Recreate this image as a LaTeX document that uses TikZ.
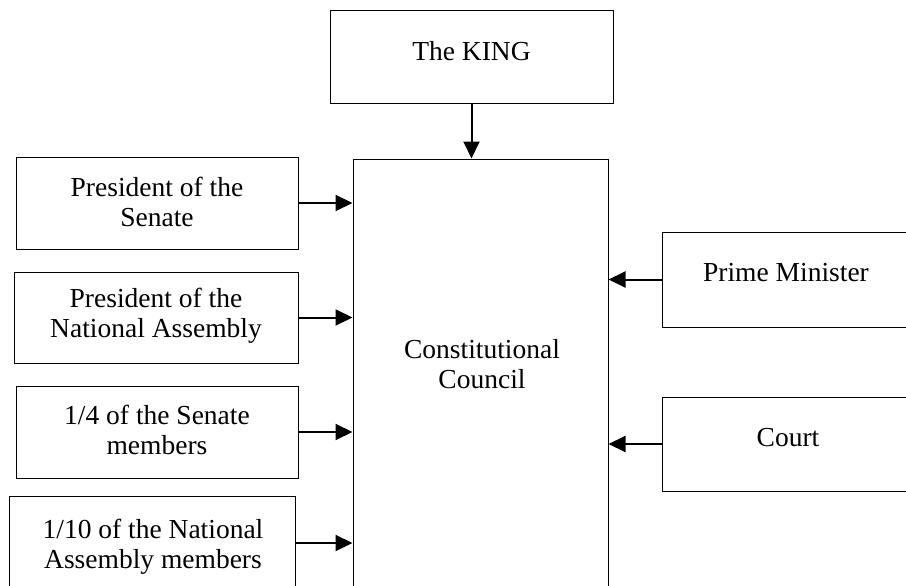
\documentclass[tikz,border=0pt]{standalone}
\usepackage{fontspec}
\setmainfont{Liberation Serif}
\usetikzlibrary{arrows.meta}

\begin{document}
\begin{tikzpicture}[x=1pt, y=-1pt,
    box/.style={draw, line width=1pt, rectangle, inner sep=0pt},
    lbl/.style={align=center, inner sep=0pt, font=\fontsize{27.5}{29.5}\selectfont},
    arr/.style={line width=2pt, -{Triangle[length=17pt,width=16pt]}}]
		%%%%% START %%%%%
		\clip (0, 0) rectangle (906, 586);
		
		% the king and the council
		\node[box, minimum width=283, minimum height=93] (king) at (471.5, 57.5) {};
		\node[lbl] (kingtxt) at (471.5, 51) {The KING};
		\node[box, minimum width=255, minimum height=441] (council) at (480.5, 379.5) {};
		\node[lbl] (counciltxt) at (482, 364) {Constitutional\\Council};
		
		% left side
		\node[box, minimum width=282, minimum height=92] (senpres) at (157, 203) {};
		\node[lbl] (senprestxt) at (157, 202) {President of the\\Senate};
		\node[box, minimum width=284, minimum height=91] (napres) at (156, 317.5) {};
		\node[lbl] (naprestxt) at (156, 316) {President of the\\National Assembly};
		\node[box, minimum width=282, minimum height=92] (senquart) at (157, 432) {};
		\node[lbl] (senquarttxt) at (157, 430) {1/4 of the Senate\\members};
		\node[box, minimum width=286, minimum height=94] (natenth) at (152, 543) {};
		\node[lbl] (natenthtxt) at (153, 547) {1/10 of the National\\Assembly members};
		
		% right side
		\node[box, minimum width=258, minimum height=95] (pm) at (791, 279.5) {};
		\node[lbl] (pmtxt) at (786, 273) {Prime Minister};
		\node[box, minimum width=258, minimum height=94] (court) at (791, 444) {};
		\node[lbl] (courttxt) at (788, 438) {Court};
		
		% arrows
		\draw[arr] (king.south) -- (king.south |- council.north);
		\draw[arr] (senpres.east) -- (senpres.east -| council.west);
		\draw[arr] (napres.east) -- (napres.east -| council.west);
		\draw[arr] (senquart.east) -- (senquart.east -| council.west);
		\draw[arr] (natenth.east) -- (natenth.east -| council.west);
		\draw[arr] (pm.west) -- (pm.west -| council.east);
		\draw[arr] (court.west) -- (court.west -| council.east);
		%%%%% END %%%%%
\end{tikzpicture}
\end{document}
